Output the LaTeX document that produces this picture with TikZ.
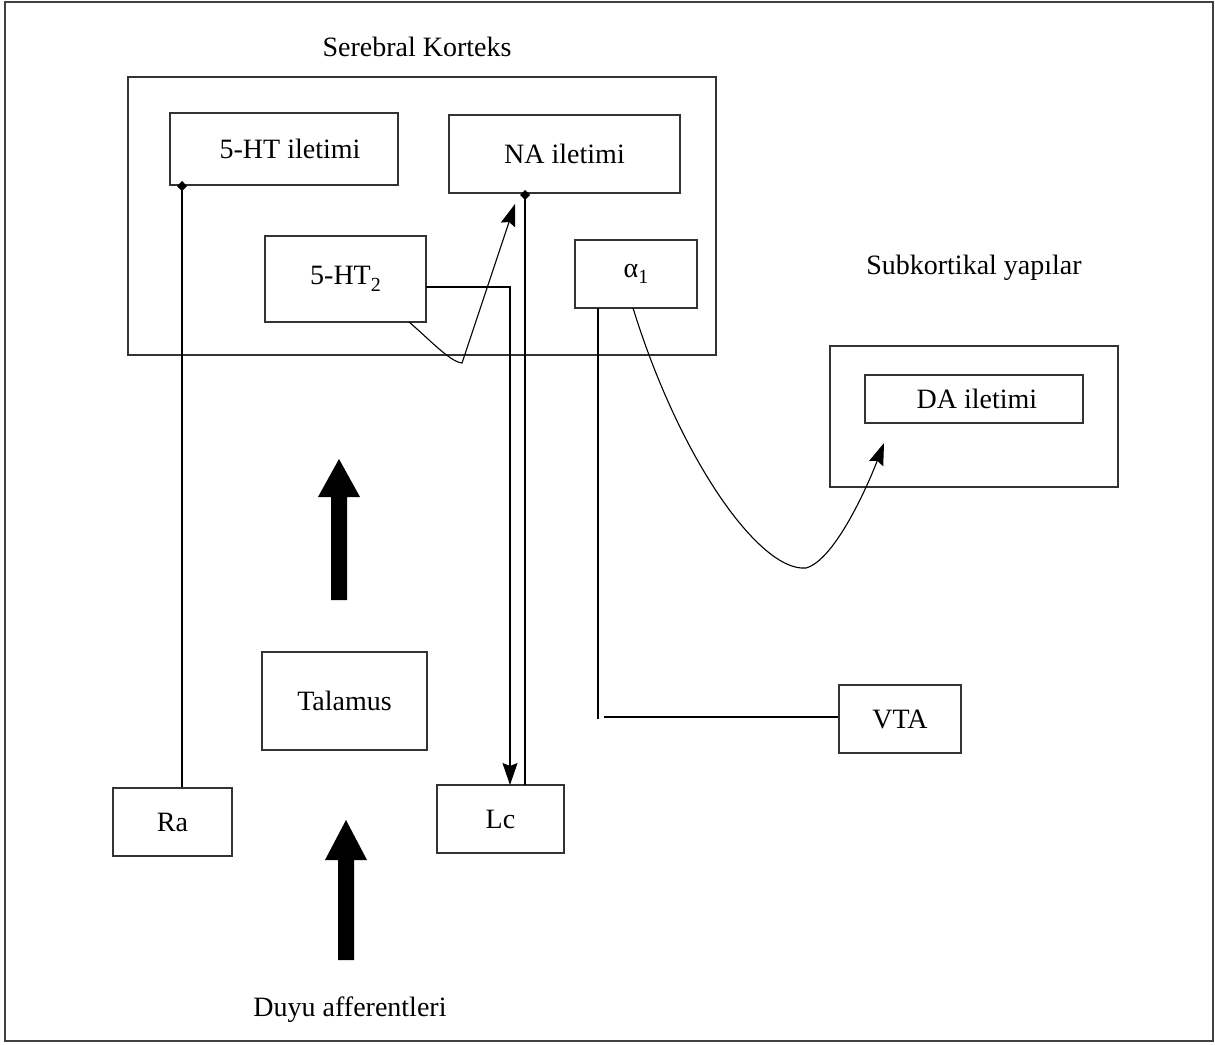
\documentclass[tikz,border=0pt]{standalone}
\usepackage{fontspec}
\setmainfont{Liberation Serif}
\usetikzlibrary{arrows.meta}
\begin{document}
\begin{tikzpicture}[x=1pt,y=-1pt,
  every node/.style={font=\fontsize{28}{32}\selectfont},
  box/.style={draw=black!80,line width=1.3pt,inner sep=0pt,minimum width=#1},
  conn/.style={line width=1.1pt,black},
  arr/.style={conn,-{Stealth[length=22pt,width=15pt,inset=3pt]}},
  dia/.style={conn,{Diamond[length=10pt,width=10pt]}-},
  lbl/.style={inner sep=0pt},
  bigarrow/.style={fill=black}
]
\useasboundingbox (0,0) rectangle (1215,1044);
\draw[draw=black!75,line width=2pt] (5,2) rectangle (1213,1041);

% Cortex
\node[lbl] (sktitle) at (417,47) {Serebral Korteks};
\node[box=588pt,minimum height=278pt] (kortex) at (422,216) {};
\node[box=228pt,minimum height=72pt] (htilet) at (284,149) {\hspace{12pt}5-HT iletimi};
\node[box=231pt,minimum height=78pt] (nailet) at (564.5,154) {NA iletimi};
\node[box=161pt,minimum height=86pt] (ht2) at (345.5,279) {5-HT\raisebox{-7pt}{\fontsize{20}{20}\selectfont 2}\hspace{4pt}};
\node[box=122pt,minimum height=68pt] (alpha) at (636,274) {α\raisebox{-6pt}{\fontsize{20}{20}\selectfont 1}\hspace{10pt}};

% Subcortical
\node[lbl] (subtitle) at (974,268) {Subkortikal yapılar};
\node[box=288pt,minimum height=141pt] (subk) at (974,416.5) {};
\node[box=218pt,minimum height=48pt] (dailet) at (974,399) {\hspace{6pt}DA iletimi};

% Lower nodes
\node[box=165pt,minimum height=98pt] (talamus) at (344.5,701) {Talamus};
\node[box=119pt,minimum height=68pt] (ra) at (172.5,822) {Ra};
\node[box=127pt,minimum height=68pt] (lc) at (500.5,819) {Lc\hspace{4pt}};
\node[box=122pt,minimum height=68pt] (vta) at (900,719) {VTA};
\node[lbl] (duyu) at (350,1010) {Duyu afferentleri};

% Coordinates
\coordinate (radot) at (182,181);
\coordinate (nadot) at (525,190);
\coordinate (ht2out) at (426,287);
\coordinate (ht2corner) at (510,287);
\coordinate (lcin) at (510,785);
\coordinate (lcout) at (525,785);
\coordinate (ht2curve) at (409,322);
\coordinate (vee) at (462,363);
\coordinate (natip) at (515,204);
\coordinate (alout) at (598,308);
\coordinate (alcorner) at (598,719);
\coordinate (vtaline) at (604,717);
\coordinate (alcurve) at (633,308);
\coordinate (dabottom) at (806,568);
\coordinate (datip) at (884,443);

% Connectors
\draw[dia] (radot) -- (ra.north -| radot);
\draw[dia] (nadot) -- (lcout);
\draw[arr] (ht2out) -- (ht2corner) -- (lcin);
\draw[arr] (ht2curve) .. controls (428,338) and (450,362) .. (vee) -- (natip);
\draw[conn] (alout) -- (alcorner);
\draw[conn] (vtaline) -- (vta.west |- vtaline);
\draw[arr] (alcurve) .. controls (680,460) and (760,572) .. (dabottom) .. controls (835,560) and (868,485) .. (datip);

% Thick arrows
\fill[bigarrow] (331,600) -- (331,497) -- (318,497) -- (339,459) -- (360,497) -- (347,497) -- (347,600) -- cycle;
\fill[bigarrow] (338,960) -- (338,860) -- (325,860) -- (346,820) -- (367,860) -- (354,860) -- (354,960) -- cycle;
\end{tikzpicture}
\end{document}
